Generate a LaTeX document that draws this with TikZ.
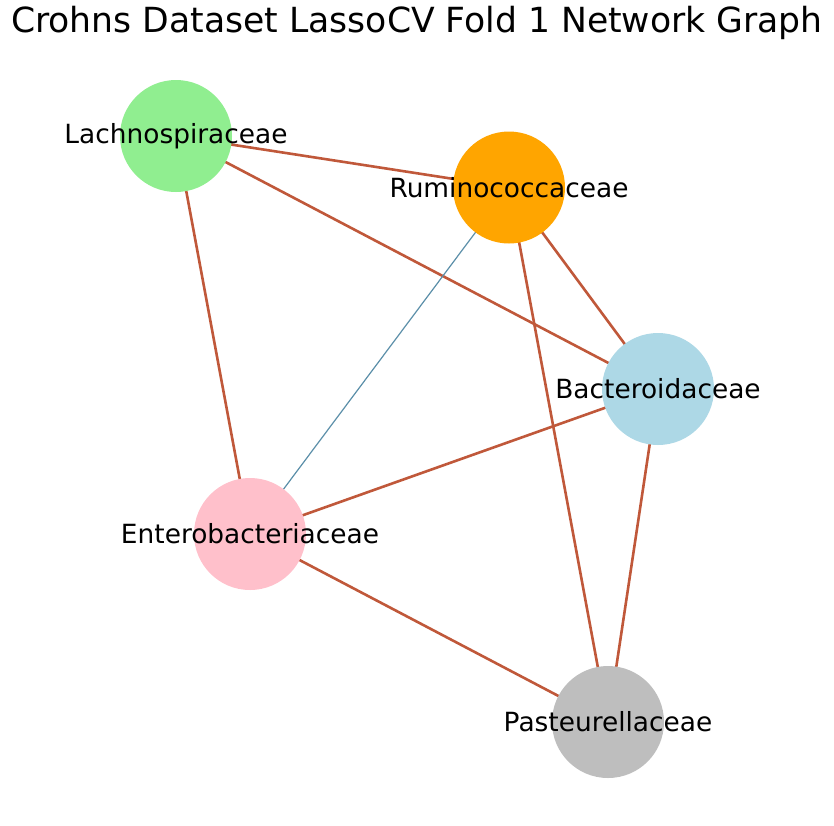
\documentclass[tikz,border=0pt]{standalone}
\usepackage{fontspec}
\setmainfont{DejaVu Sans}
\usetikzlibrary{backgrounds}
\definecolor{edgered}{HTML}{C0583A}
\definecolor{edgeblue}{HTML}{5B8FA9}
\definecolor{nlgreen}{HTML}{90EE90}
\definecolor{norange}{HTML}{FFA500}
\definecolor{nlblue}{HTML}{ADD8E6}
\definecolor{npink}{HTML}{FFC0CB}
\definecolor{ngray}{HTML}{BEBEBE}
\tikzset{
  circ/.style={circle, minimum size=112pt, inner sep=0pt, draw=none},
  lbl/.style={inner sep=0pt, font=\fontsize{26.4}{30}\selectfont, text=black},
  strong/.style={draw=edgered, line width=2.6pt},
  weak/.style={draw=edgeblue, line width=1.2pt},
}
\begin{document}
\begin{tikzpicture}[x=1pt,y=-1pt]
\useasboundingbox (0,0) rectangle (834,825);
\node[font=\fontsize{34.6}{40}\selectfont] (title) at (417,23) {Crohns Dataset LassoCV Fold 1 Network Graph};
\node[circ, fill=nlgreen] (lach) at (176,136) {};
\node[circ, fill=norange] (rum) at (509,187.5) {};
\node[circ, fill=nlblue] (bact) at (658,389) {};
\node[circ, fill=npink] (ent) at (250,534) {};
\node[circ, fill=ngray] (past) at (608,722) {};
\begin{pgfonlayer}{background}
\fill[white] (0,0) rectangle (834,825);
\draw[strong] (lach.center) -- (rum.center);
\draw[strong] (lach.center) -- (bact.center);
\draw[strong] (lach.center) -- (ent.center);
\draw[strong] (rum.center) -- (bact.center);
\draw[strong] (rum.center) -- (past.center);
\draw[weak] (rum.center) -- (ent.center);
\draw[strong] (bact.center) -- (ent.center);
\draw[strong] (bact.center) -- (past.center);
\draw[strong] (ent.center) -- (past.center);
\end{pgfonlayer}
\node[lbl] (llach) at (lach) {Lachnospiraceae};
\node[lbl] (lrum) at (rum) {Ruminococcaceae};
\node[lbl] (lbact) at (bact) {Bacteroidaceae};
\node[lbl] (lent) at (ent) {Enterobacteriaceae};
\node[lbl] (lpast) at (past) {Pasteurellaceae};
\end{tikzpicture}
\end{document}
